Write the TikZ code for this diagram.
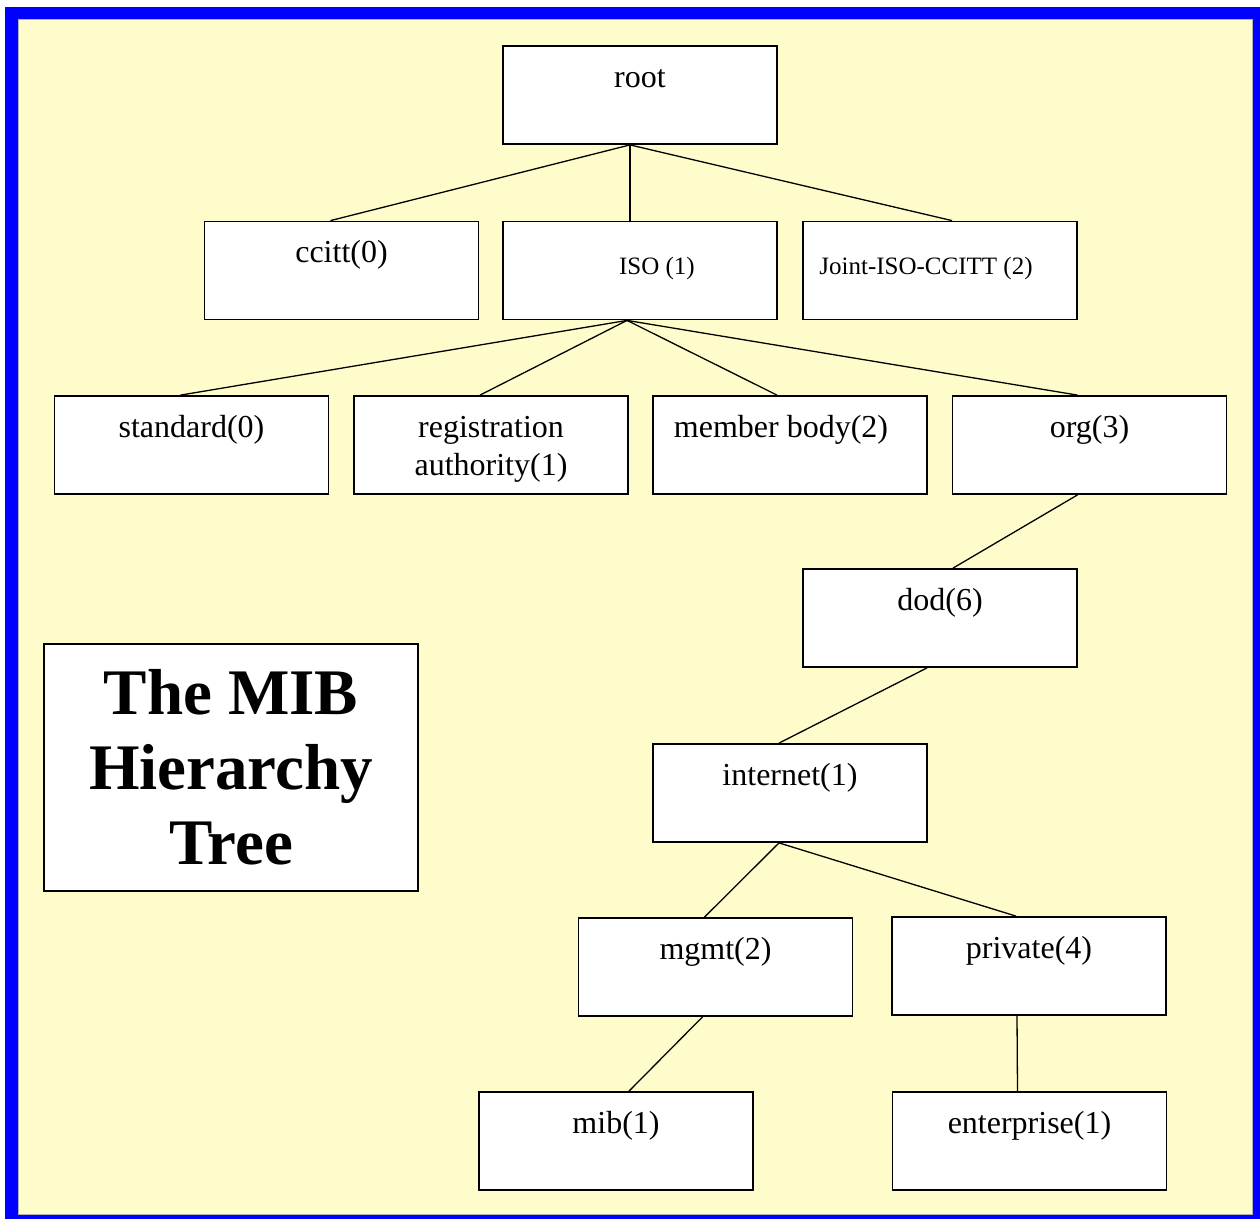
\documentclass[tikz,border=0pt]{standalone}
\usepackage{fontspec}
\setmainfont{Liberation Serif}
\usetikzlibrary{positioning}
\usetikzlibrary{calc}
\definecolor{mibyellow}{RGB}{255,252,204}
\definecolor{mibblue}{RGB}{0,0,255}
\newcommand{\boxfont}{\fontsize{32}{38}\selectfont}
\newcommand{\smallboxfont}{\fontsize{25}{30}\selectfont}
\tikzset{
	mibbox/.style={draw=black, fill=white, line width=1.8pt, inner sep=0pt,
		minimum width=274pt, minimum height=98pt,
		text height=41pt, text depth=57pt, font=\boxfont, align=center},
	lowtext/.style={text height=53pt, text depth=45pt, font=\smallboxfont},
	twolines/.style={text height=79pt, text depth=19pt},
	mibedge/.style={draw=black, line width=1.3pt}
}

\begin{document}
\begin{tikzpicture}[x=1pt, y=-1pt]

\useasboundingbox (0,0) rectangle (1260,1219);
\fill[white] (0,0) rectangle (1260,1219);
\fill[mibblue] (5,7) rectangle (1260,1219);
\fill[mibyellow] (18,19) rectangle (1252,1214);
\draw[gray!60, line width=0.8pt] (18,19) rectangle (1252,1214);

% first levels
\node[mibbox] (root) at (640,95) {root};
\node[mibbox] (ccitt) at (341.5,270.5) {ccitt(0)};
\node[mibbox, lowtext] (ISO) at (640,270.5) {\hspace*{34pt}ISO (1)};
\node[mibbox, lowtext] (Joint) at (940,270.5) {\hspace*{-28pt}Joint-ISO-CCITT (2)};

\node[mibbox] (standard) at (191.5,445) {standard(0)};
\node[mibbox, twolines] (registration) at (491,445) {registration\\authority(1)};
\node[mibbox] (member) at (790,445) {\hspace*{-18pt}member body(2)};
\node[mibbox] (org) at (1089.5,445) {org(3)};

% down to the internet subtree
\node[mibbox] (dod) at (940,618) {dod(6)};
\node[mibbox] (internet) at (790,793) {internet(1)};
\node[mibbox] (mgmt) at (715.5,967) {mgmt(2)};
\node[mibbox] (private) at (1029,966) {private(4)};
\node[mibbox] (mib) at (616,1141) {mib(1)};
\node[mibbox] (enterprise) at (1029.5,1141) {enterprise(1)};

\node[draw=black, fill=white, line width=1.8pt, minimum width=374pt, minimum height=247pt,
	align=center, font=\fontsize{65}{75}\selectfont\bfseries] (title) at (231,767.5)
	{The MIB\\Hierarchy\\Tree};

\foreach \t/\s in {ccitt/-11, ISO/-10, Joint/12}
	\draw[mibedge] ([xshift=-10pt]root.south) -- ([xshift=\s pt]\t.north);
\foreach \t/\s in {standard/-11, registration/-11, member/-13, org/-12}
	\draw[mibedge] ([xshift=-13pt]ISO.south) -- ([xshift=\s pt]\t.north);
\draw[mibedge] ([xshift=-12pt]org.south) -- ([xshift=13pt]dod.north);
\draw[mibedge] ([xshift=-13pt]dod.south) -- ([xshift=-11pt]internet.north);
\foreach \t/\s in {mgmt/-11, private/-13}
	\draw[mibedge] ([xshift=-11pt]internet.south) -- ([xshift=\s pt]\t.north);
\draw[mibedge] ([xshift=-13pt]mgmt.south) -- ([xshift=13pt]mib.north);
\draw[mibedge] ([xshift=-12pt]private.south) -- ([xshift=-12pt]enterprise.north);
\end{tikzpicture}
\end{document}
